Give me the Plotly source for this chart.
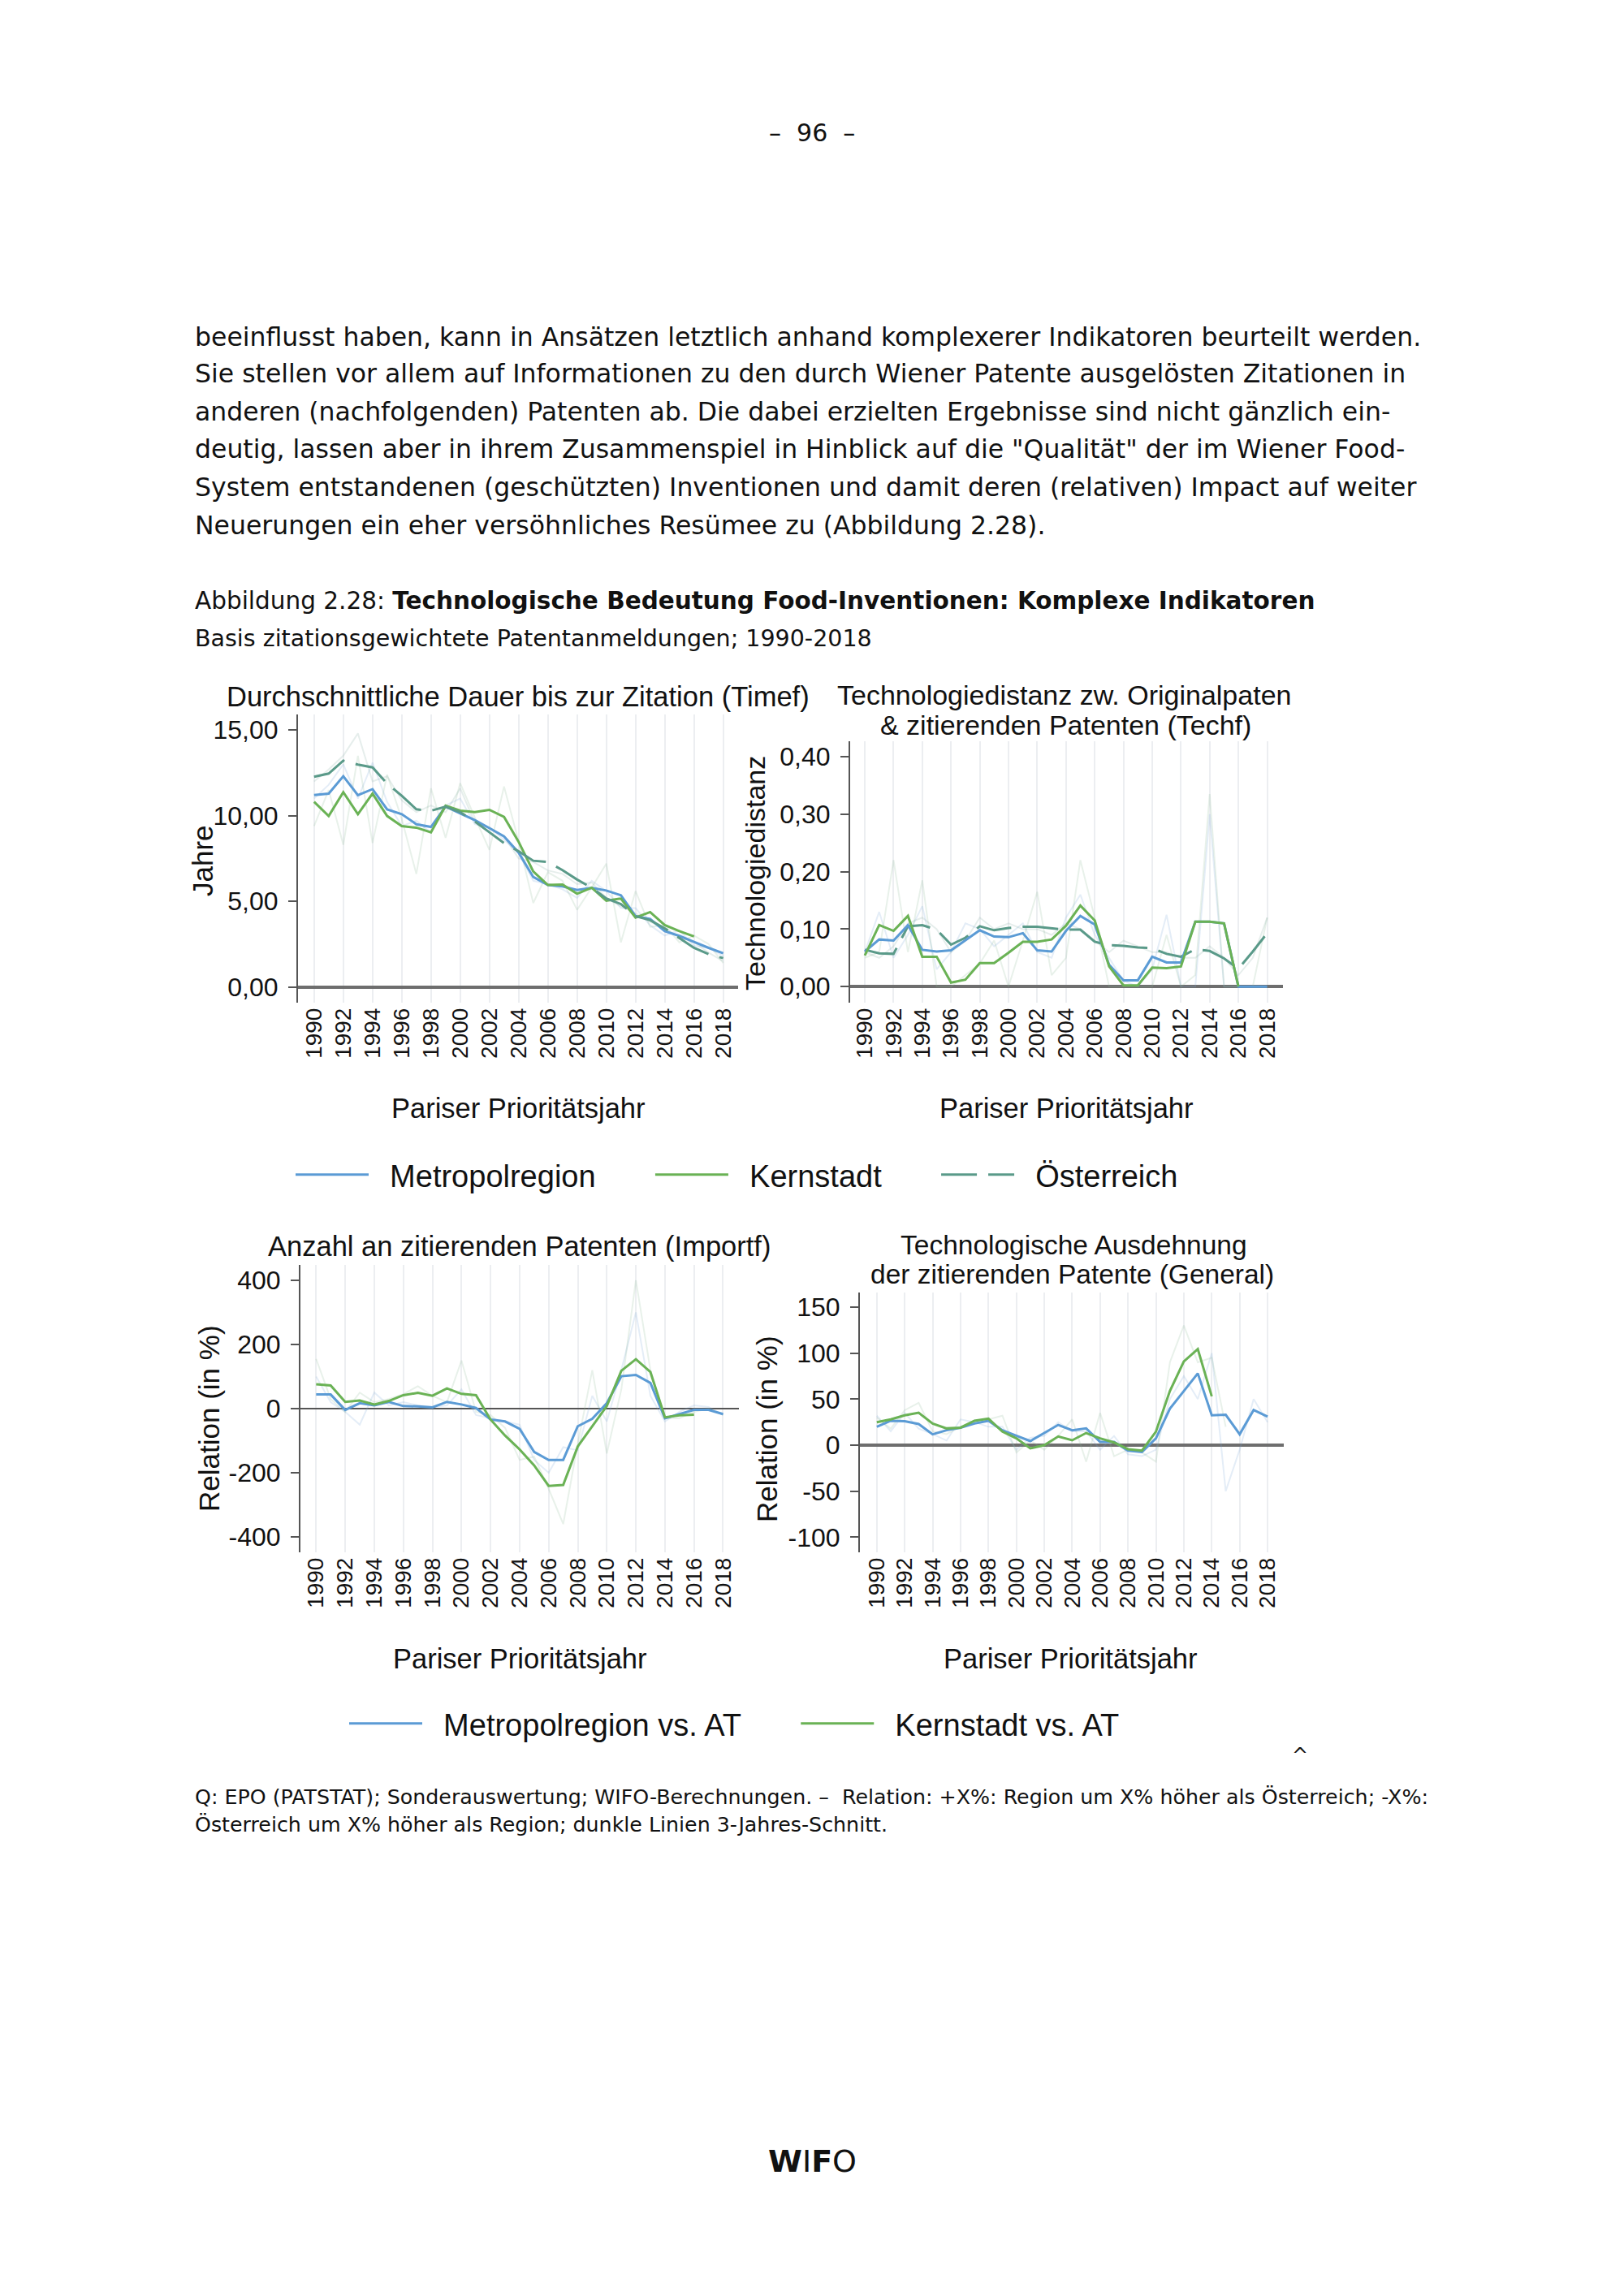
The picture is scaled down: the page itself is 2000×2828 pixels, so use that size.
import plotly.graph_objects as go

W, H = 2000, 2828

# ---------------- data ----------------
years = list(range(1990, 2019))
xtick_vals = list(range(1990, 2019, 2))
xtick_text = [str(v) for v in xtick_vals]

# Panel 1: Timef (Jahre), 3-year averages
timef_metro = [11.2, 11.29, 12.3, 11.2, 11.55, 10.37, 10.09, 9.5, 9.34, 10.53, 10.13, 9.74, 9.27, 8.79, 7.84,
               6.42, 5.95, 5.87, 5.66, 5.79, 5.63, 5.35, 4.13, 3.97, 3.26, 2.98, 2.63, 2.28, 1.97]
timef_kern = [10.81, 9.98, 11.37, 10.09, 11.29, 9.98, 9.39, 9.3, 9.03, 10.58, 10.29, 10.21, 10.34, 9.93, 8.47,
              6.74, 5.95, 5.98, 5.44, 5.79, 5.03, 5.16, 4.05, 4.37, 3.61, 3.26, 2.95, None, None]
timef_at = [12.27, 12.46, 13.21, 12.98, 12.82, 11.87, 11.16, 10.37, 10.29, 10.53, 10.21, 9.66, 9.03, 8.4, 7.92,
            7.37, 7.29, 6.82, 6.27, 5.79, 5.16, 4.84, 4.13, 3.9, 3.42, 2.87, 2.28, 1.92, 1.68]
# Panel 1: annual values (faint)
timef_metro_raw = [11.0, 11.8, 13.0, 11.0, 13.1, 10.8, 9.4, 9.7, 9.0, 10.6, 11.0, 9.5, 9.3, 8.6, 7.8,
                   6.2, 6.0, 5.7, 5.2, 6.2, 5.6, 4.6, 4.6, 3.6, 3.0, 3.3, 2.4, 2.3, 1.8]
timef_kern_raw = [9.4, 11.5, 8.3, 13.5, 8.4, 12.4, 9.8, 6.6, 11.6, 8.7, 11.9, 9.9, 8.0, 11.7, 8.5,
                  4.9, 6.7, 6.2, 4.5, 5.8, 7.2, 2.6, 5.6, 3.5, 3.6, 2.6, 3.0, 2.5, 1.4]
timef_at_raw = [12.0, 12.7, 13.5, 14.8, 12.0, 12.3, 10.9, 10.2, 10.6, 10.2, 11.6, 9.6, 9.3, 8.8, 7.5,
                7.3, 6.8, 6.6, 6.0, 6.1, 5.2, 4.7, 4.3, 3.8, 3.4, 2.9, 2.6, 2.0, 1.5]

# Panel 2: Techf (Technologiedistanz)
techf_metro = [0.061, 0.082, 0.080, 0.107, 0.064, 0.061, 0.063, 0.080, 0.098, 0.087, 0.086, 0.093, 0.063, 0.061,
               0.097, 0.123, 0.108, 0.038, 0.011, 0.011, 0.052, 0.042, 0.042, 0.113, 0.113, 0.110, 0.0, 0.0, 0.0]
techf_kern = [0.054, 0.107, 0.097, 0.123, 0.052, 0.052, 0.007, 0.012, 0.041, 0.041, 0.059, 0.078, 0.078, 0.082,
              0.106, 0.141, 0.115, 0.035, 0.002, 0.002, 0.033, 0.032, 0.035, 0.113, 0.113, 0.110, 0.0, None, None]
techf_at = [0.064, 0.058, 0.057, 0.105, 0.107, 0.099, 0.073, 0.085, 0.105, 0.098, 0.102, 0.104, 0.104, 0.101,
            0.099, 0.099, 0.078, 0.072, 0.071, 0.068, 0.067, 0.057, 0.052, 0.065, 0.062, 0.049, 0.031, 0.061, 0.093]
techf_metro_raw = [0.06, 0.13, 0.05, 0.09, 0.14, 0.03, 0.06, 0.11, 0.10, 0.07, 0.09, 0.11, 0.06, 0.05, 0.12,
                   0.16, 0.09, 0.05, 0.01, 0.0, 0.03, 0.125, 0.0, 0.0, 0.30, 0.0, 0.0, 0.0, 0.0]
techf_kern_raw = [0.05, 0.06, 0.22, 0.06, 0.185, 0.0, 0.0, 0.02, 0.04, 0.08, 0.0, 0.08, 0.165, 0.02, 0.05,
                  0.22, 0.12, 0.0, 0.0, 0.0, 0.0, 0.09, 0.0, 0.02, 0.335, 0.0, 0.0, 0.0, 0.12]
techf_at_raw = [0.06, 0.05, 0.07, 0.11, 0.12, 0.10, 0.06, 0.08, 0.12, 0.10, 0.11, 0.10, 0.10, 0.09, 0.11,
                0.10, 0.08, 0.06, 0.08, 0.07, 0.06, 0.06, 0.05, 0.05, 0.07, 0.05, 0.02, 0.05, 0.12]

# Panel 3: Importf (Relation in %)
importf_metro = [44, 44, -4, 17, 10, 21, 8, 7, 4, 21, 13, 2, -34, -40, -63, -135, -160, -160, -55, -32, 17,
                 101, 105, 80, -30, -17, -4, -4, -17]
importf_kern = [76, 72, 21, 25, 13, 24, 42, 49, 40, 63, 46, 42, -34, -84, -127, -177, -241, -238, -118, -55, 8,
                118, 154, 114, -27, -21, -19, None, None]
importf_metro_raw = [100, 20, -10, -50, 50, 10, 20, 10, 5, 10, 60, -20, -30, -40, -50, -160, -200, -120, -130,
                     40, -40, 120, 300, 40, -40, -10, 10, 5, -20]
importf_kern_raw = [155, 30, -10, 50, 20, 30, 45, 70, 40, 20, 150, -10, -20, -60, -160, -150, -250, -360, -110,
                    120, -140, 60, 400, 120, -30, -30, -10, 0, -20]

# Panel 4: General (Relation in %)
general_metro = [20, 26.5, 26, 23, 11.8, 16.2, 19, 23.5, 26.5, 16.2, 10.3, 4.4, 13.2, 22, 16.2, 18.2, 3.5, 3.5,
                 -5.9, -7.4, 7.4, 39.7, 58.8, 78, 32.4, 33, 11.8, 38.2, 30.9]
general_kern = [25, 28, 32.4, 35.3, 23.5, 18.2, 19, 26.5, 28.8, 14.7, 7.4, -3.5, 0, 9.4, 5.3, 13.2, 7.4, 2.9,
                -4.4, -5.9, 14.7, 58.8, 91, 104.4, 53, None, None, None, None]
general_metro_raw = [32, 15, 35, 18, 12, 5, 28, 25, 20, 20, -5, 8, 10, 25, 15, 15, -5, 10, -10, -12, -5, 50,
                     75, 50, 100, -50, -5, 50, 25]
general_kern_raw = [30, 18, 38, 46, 15, 12, 20, 27, 28, 32, -8, 5, -5, 10, 28, -18, 35, -12, -5, -8, -18, 90,
                    130, 90, 95, 20, None, None, None]

# tick labels
y1_vals = [0, 5, 10, 15]
y1_text = ["0,00", "5,00", "10,00", "15,00"]
y2_vals = [0, 0.1, 0.2, 0.3, 0.4]
y2_text = ["0,00", "0,10", "0,20", "0,30", "0,40"]
y3_vals = [-400, -200, 0, 200, 400]
y3_text = ["-400", "-200", "0", "200", "400"]
y4_vals = [-100, -50, 0, 50, 100, 150]
y4_text = ["-100", "-50", "0", "50", "100", "150"]

# ---------------- styles ----------------
C_BLUE = "#5b9bd5"
C_GREEN = "#6ab255"
C_TEAL = "#5a9a89"
F_BLUE = "rgba(120,165,215,0.20)"
F_GREEN = "rgba(140,185,150,0.20)"
F_TEAL = "rgba(130,170,160,0.20)"
CHART_FONT = "Liberation Sans, Arial, sans-serif"
PAGE_FONT = "DejaVu Sans, sans-serif"
NB = "\u00a0"
LEAD = "\u200b" + NB * 2


def px(x):
    return x / W


def py(y):
    return 1 - y / H


fig = go.Figure()


def add_line(xi, yi, vals, color, width, name=None, dash=None, legend=None):
    fig.add_trace(go.Scatter(
        x=years, y=vals, mode="lines", xaxis=xi, yaxis=yi,
        line=dict(color=color, width=width, dash=dash),
        name=name if name else "", showlegend=legend is not None,
        legend=legend if legend else "legend", connectgaps=False, hoverinfo="skip"))


# Panel 1
add_line("x", "y", timef_metro_raw, F_BLUE, 2)
add_line("x", "y", timef_kern_raw, F_GREEN, 2)
add_line("x", "y", timef_at_raw, F_TEAL, 2)
add_line("x", "y", timef_metro, C_BLUE, 3, LEAD + "Metropolregion" + NB * 6, legend="legend")
add_line("x", "y", timef_kern, C_GREEN, 3, LEAD + "Kernstadt" + NB * 6, legend="legend")
add_line("x", "y", timef_at, C_TEAL, 3, LEAD + "Österreich", dash="44px,14px", legend="legend")
# Panel 2
add_line("x2", "y2", techf_metro_raw, F_BLUE, 2)
add_line("x2", "y2", techf_kern_raw, F_GREEN, 2)
add_line("x2", "y2", techf_at_raw, F_TEAL, 2)
add_line("x2", "y2", techf_at, C_TEAL, 3, dash="44px,14px")
add_line("x2", "y2", techf_metro, C_BLUE, 3)
add_line("x2", "y2", techf_kern, C_GREEN, 3)
# Panel 3
add_line("x3", "y3", importf_metro_raw, F_BLUE, 2)
add_line("x3", "y3", importf_kern_raw, F_GREEN, 2)
add_line("x3", "y3", importf_metro, C_BLUE, 3, LEAD + "Metropolregion vs. AT" + NB * 6, legend="legend2")
add_line("x3", "y3", importf_kern, C_GREEN, 3, LEAD + "Kernstadt vs. AT", legend="legend2")
# Panel 4
add_line("x4", "y4", general_metro_raw, F_BLUE, 2)
add_line("x4", "y4", general_kern_raw, F_GREEN, 2)
add_line("x4", "y4", general_metro, C_BLUE, 3)
add_line("x4", "y4", general_kern, C_GREEN, 3)

panels = [
    # suffix, x-domain px, y-domain px (bottom, top), xrange, yrange, ytick vals/text, zero width
    ("", (367, 909), (1235, 880), (1988.9, 2019.02), (-0.92, 15.91), y1_vals, y1_text, 4),
    ("2", (1047, 1580), (1235, 913), (1988.98, 2019.1), (-0.028, 0.427), y2_vals, y2_text, 4),
    ("3", (370, 910), (1912, 1558), (1988.92, 2019.09), (-448, 448), y3_vals, y3_text, 2),
    ("4", (1059, 1581), (1912, 1592), (1988.79, 2019.16), (-116.5, 165.9), y4_vals, y4_text, 4),
]

axes = {}
for n, xd, yd, xr, yr, yv, yt, zw in panels:
    axes["xaxis" + n] = dict(
        domain=[px(xd[0]), px(xd[1])], range=list(xr), anchor="y" + n,
        tickmode="array", tickvals=xtick_vals, ticktext=xtick_text, tickangle=-90,
        showgrid=True, gridcolor="#eceef1", gridwidth=2, zeroline=False, showline=False,
        ticks="", tickfont=dict(family=CHART_FONT, size=28, color="#111"), fixedrange=True)
    axes["yaxis" + n] = dict(
        domain=[py(yd[0]), py(yd[1])], range=list(yr), anchor="x" + n,
        tickmode="array", tickvals=yv, ticktext=yt, showgrid=False,
        zeroline=True, zerolinecolor="#6e6e6e" if zw == 4 else "#555555", zerolinewidth=zw,
        showline=True, linecolor="#555555", linewidth=2, ticks="outside", ticklen=10,
        tickwidth=2, tickcolor="#555555", ticklabelstandoff=6,
        tickfont=dict(family=CHART_FONT, size=32, color="#111"), fixedrange=True)

ann = []


def text(x, y, s, size, font=CHART_FONT, anchor="center", angle=0, color="#111"):
    ann.append(dict(x=px(x), y=py(y), xref="paper", yref="paper", text=s, showarrow=False,
                    xanchor=anchor, yanchor="middle", textangle=angle,
                    font=dict(family=font, size=size, color=color)))


# page texts
text(1000, 163, "–  96  –", 30, PAGE_FONT)
para = [
    "beeinflusst haben, kann in Ansätzen letztlich anhand komplexerer Indikatoren beurteilt werden.",
    "Sie stellen vor allem auf Informationen zu den durch Wiener Patente ausgelösten Zitationen in",
    "anderen (nachfolgenden) Patenten ab. Die dabei erzielten Ergebnisse sind nicht gänzlich ein-",
    "deutig, lassen aber in ihrem Zusammenspiel in Hinblick auf die \"Qualität\" der im Wiener Food-",
    "System entstandenen (geschützten) Inventionen und damit deren (relativen) Impact auf weiter",
    "Neuerungen ein eher versöhnliches Resümee zu (Abbildung 2.28).",
]
para_y = [415, 460, 507, 553, 600, 647]
for s, yy in zip(para, para_y):
    text(238, yy, s, 31.5, PAGE_FONT, anchor="left")
text(238, 740, "Abbildung 2.28: <b>Technologische Bedeutung Food-Inventionen: Komplexe Indikatoren</b>",
     29.5, PAGE_FONT, anchor="left")
text(238, 787, "Basis zitationsgewichtete Patentanmeldungen; 1990-2018", 28.5, PAGE_FONT, anchor="left")
text(238, 2213, "Q: EPO (PATSTAT); Sonderauswertung; WIFO-Berechnungen. –  Relation: +X%: Region um X% "
     "höher als Österreich; -X%:", 25.3, PAGE_FONT, anchor="left")
text(238, 2247, "Österreich um X% höher als Region; dunkle Linien 3-Jahres-Schnitt.", 25.3, PAGE_FONT,
     anchor="left")
text(1601, 2162, "^", 24, PAGE_FONT)
text(1001, 2662, "<b>W</b>I<b>F</b>O", 38, PAGE_FONT)

# chart titles
text(638, 858, "Durchschnittliche Dauer bis zur Zitation (Timef)", 34.5)
text(1310, 856, "Technologiedistanz zw. Originalpaten", 34)
text(1312, 893, "& zitierenden Patenten (Techf)", 34)
text(639, 1535, "Anzahl an zitierenden Patenten (Importf)", 34.5)
text(1322, 1533, "Technologische Ausdehnung", 33.5)
text(1320, 1569, "der zitierenden Patente (General)", 33.5)
# axis titles
text(250, 1060, "Jahre", 35, angle=-90)
text(930, 1076, "Technologiedistanz", 34, angle=-90)
text(257, 1747, "Relation (in %)", 35, angle=-90)
text(945, 1760, "Relation (in %)", 35, angle=-90)
text(638, 1365, "Pariser Prioritätsjahr", 34.5)
text(1313, 1365, "Pariser Prioritätsjahr", 34.5)
text(640, 2043, "Pariser Prioritätsjahr", 34.5)
text(1318, 2043, "Pariser Prioritätsjahr", 34.5)

fig.update_layout(
    width=W, height=H, autosize=False, margin=dict(l=0, r=0, t=0, b=0),
    paper_bgcolor="white", plot_bgcolor="white",
    annotations=ann,
    legend=dict(orientation="h", x=px(359), y=py(1447), xanchor="left", yanchor="middle",
                font=dict(family=CHART_FONT, size=38, color="#111"), bgcolor="rgba(0,0,0,0)",
                itemwidth=90, itemclick=False, itemdoubleclick=False),
    legend2=dict(orientation="h", x=px(425), y=py(2123), xanchor="left", yanchor="middle",
                 font=dict(family=CHART_FONT, size=38, color="#111"), bgcolor="rgba(0,0,0,0)",
                 itemwidth=90, itemclick=False, itemdoubleclick=False),
    showlegend=True,
    **axes,
)

fig.write_html("out.html", config={"displayModeBar": False, "staticPlot": True},
               post_script="document.body.style.margin='0';document.body.style.overflow='hidden';")
